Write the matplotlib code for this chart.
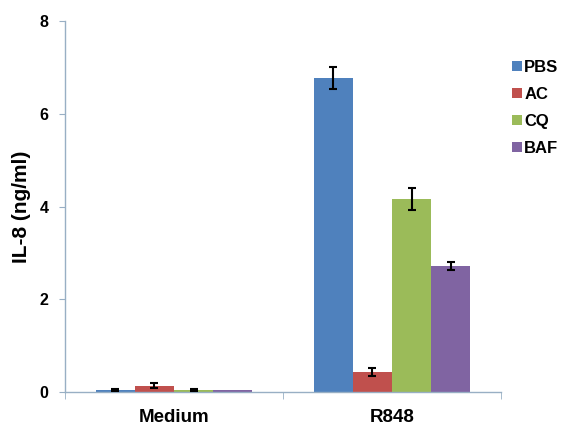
import matplotlib
matplotlib.use("Agg")
import matplotlib.pyplot as plt
import numpy as np

plt.rcParams['font.family'] = ['Liberation Sans', 'DejaVu Sans']
plt.rcParams['font.weight'] = 'bold'

categories = ["Medium", "R848"]
series = ["PBS", "AC", "CQ", "BAF"]
values = {
    "PBS": [0.05, 6.77],
    "AC": [0.14, 0.43],
    "CQ": [0.05, 4.16],
    "BAF": [0.04, 2.72],
}
errors = {
    "PBS": [0.02, 0.23],
    "AC": [0.06, 0.09],
    "CQ": [0.02, 0.23],
    "BAF": [0.0, 0.08],
}
colors = ["#4F81BD", "#C0504D", "#9BBB59", "#8064A2"]
yticks = [0, 2, 4, 6, 8]

W, H = 561, 430
fig = plt.figure(figsize=(W / 100, H / 100), dpi=100)
ax = fig.add_axes([65 / W, 1 - 392 / H, (501 - 65) / W, (392 - 21) / H])

x = np.arange(len(categories))
bw = 0.18
for i, s in enumerate(series):
    pos = x + (i - 1.5) * bw
    ax.bar(pos, values[s], bw, color=colors[i], label=s, zorder=2)
    err = np.array(errors[s])
    keep = err > 0
    ax.errorbar(pos[keep], np.array(values[s])[keep], yerr=err[keep], fmt='none',
                ecolor='black', elinewidth=1.5, capsize=3, capthick=1.5, zorder=3)

ax.set_xlim(-0.5, 1.5)
ax.set_ylim(0, 8)
ax.set_yticks(yticks)
ax.set_yticklabels([str(t) for t in yticks], fontsize=11.5, fontweight='bold')
ax.set_xticks(x)
ax.set_xticklabels(categories, fontsize=13.5, fontweight='bold')
ax.tick_params(axis='x', length=0, pad=12)
ax.set_xticks([-0.5, 0.5, 1.5], minor=True)
ax.tick_params(axis='x', which='minor', length=5, color='#98AFC4', direction='out')
ax.tick_params(axis='y', length=4, color='#98AFC4', direction='out', pad=8)

for sp in ['top', 'right']:
    ax.spines[sp].set_visible(False)
for sp in ['left', 'bottom']:
    ax.spines[sp].set_color('#98AFC4')
    ax.spines[sp].set_linewidth(1.0)

ax.set_ylabel("IL-8 (ng/ml)", fontsize=15, fontweight='bold', labelpad=6)

leg = fig.legend(loc='upper left', bbox_to_anchor=(505 / W, 1 - 53 / H),
                 frameon=False, fontsize=12, handlelength=0.6, handleheight=0.6,
                 handletextpad=0.15, labelspacing=0.72, borderaxespad=0)

fig.savefig("out.png", dpi=100)
